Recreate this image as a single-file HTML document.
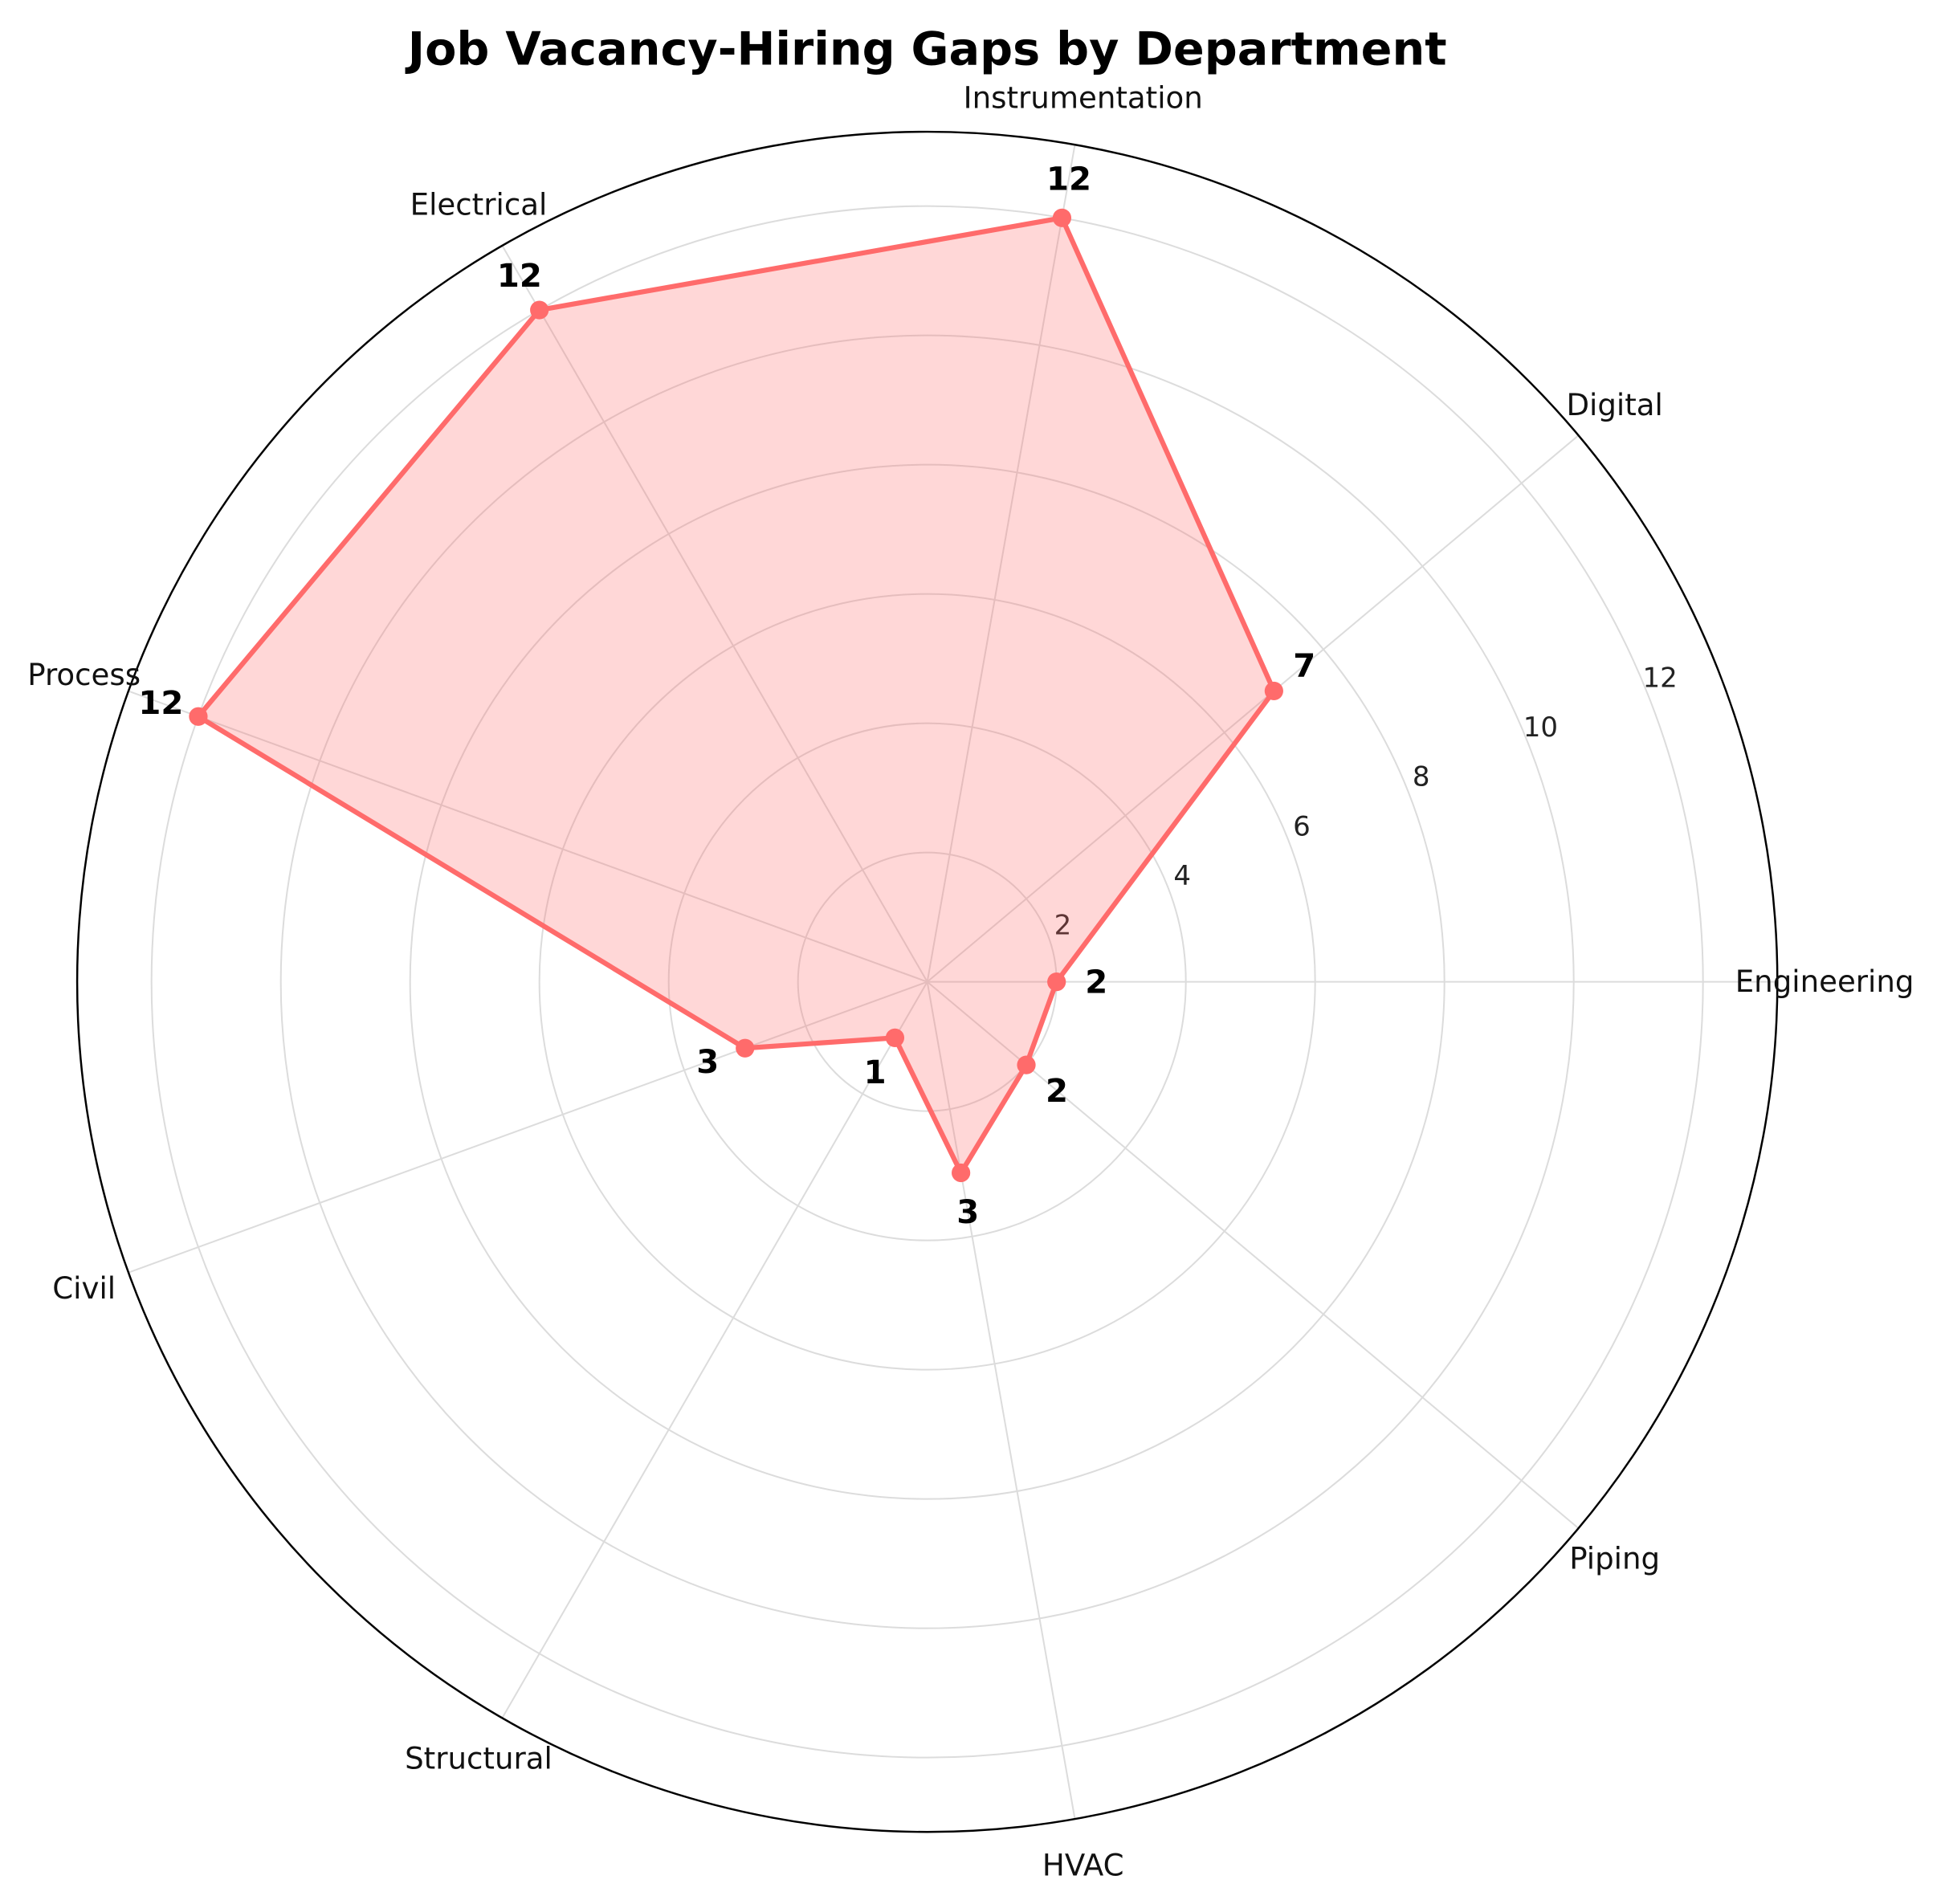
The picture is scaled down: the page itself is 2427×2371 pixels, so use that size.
<!DOCTYPE html>
<html><head><meta charset="utf-8"><style>
html,body{margin:0;padding:0;background:#fff}
svg{display:block;font-family:"DejaVu Sans","Liberation Sans",sans-serif}
</style></head><body>
<svg id="chart" width="2427" height="2371" viewBox="0 0 1568 1532" xmlns="http://www.w3.org/2000/svg">
<text x="746" y="52" text-anchor="middle" font-size="37" font-weight="bold">Job Vacancy-Hiring Gaps by Department</text>
<g id="grid"></g><g id="series"></g><g id="labels"></g>
</svg>
<script>
const categories = ["Engineering","Digital","Instrumentation","Electrical","Process","Civil","Structural","HVAC","Piping"];
const gapValues = [2,7,12,12,12,3,1,3,2];
const tickValues = [2,4,6,8,10,12];
const tickLabels = ["2","4","6","8","10","12"];
const rMax = 13.15;

const NS="http://www.w3.org/2000/svg";
const cx=746, cy=790, R=684;
function rScale(v){return v/rMax*R;}
function ang(i){return i*2*Math.PI/categories.length;}
function pt(i,r){return [cx+r*Math.cos(ang(i)), cy-r*Math.sin(ang(i))];}
function mk(tag,attrs,parent){const e=document.createElementNS(NS,tag);for(const k in attrs)e.setAttribute(k,attrs[k]);parent.appendChild(e);return e;}
const grid=document.getElementById('grid'), ser=document.getElementById('series'), lab=document.getElementById('labels');

tickValues.forEach((t,k)=>{
  const c=mk('circle',{cx:cx,cy:cy,r:rScale(t),fill:'none',stroke:'#dcdcdc','stroke-width':1.3},grid);
  
  
  const a=22.5*Math.PI/180, rr=rScale(t)+14;
  const tx=mk('text',{x:cx+rr*Math.cos(a),y:cy-rr*Math.sin(a)+7,'text-anchor':'middle','font-size':22,fill:'#222'},grid);
  tx.textContent=tickLabels[k];
  
  
});
categories.forEach((c,i)=>{
  const p=pt(i,R);
  const l=mk('line',{x1:cx,y1:cy,x2:p[0],y2:p[1],stroke:'#dcdcdc','stroke-width':1.3},grid);
  
  
  const q=pt(i,R+38);
  const tx=mk('text',{x:q[0],y:q[1]+8,'text-anchor':'middle','font-size':24,fill:'#111'},lab);
  tx.textContent=c;
  
  
});
const outer=mk('circle',{cx:cx,cy:cy,r:R,fill:'none',stroke:'#000','stroke-width':1.6},grid);



const pts=gapValues.map((v,i)=>pt(i,rScale(v)));
const poly=mk('polygon',{points:pts.map(p=>p.join(',')).join(' '),fill:'rgba(255,107,107,0.27)',stroke:'#ff6b6b','stroke-width':4,'stroke-linejoin':'round'},ser);


gapValues.forEach((v,i)=>{
  const p=pts[i];
  const d=mk('circle',{cx:p[0],cy:p[1],r:7.5,fill:'#ff6b6b'},ser);
  
  
  const q=pt(i,rScale(v)+32);
  const t=mk('text',{x:q[0],y:q[1]+9,'text-anchor':'middle','font-size':26,'font-weight':'bold',fill:'#000'},ser);
  t.textContent=String(v);
  
  
});
</script>
</body></html>
